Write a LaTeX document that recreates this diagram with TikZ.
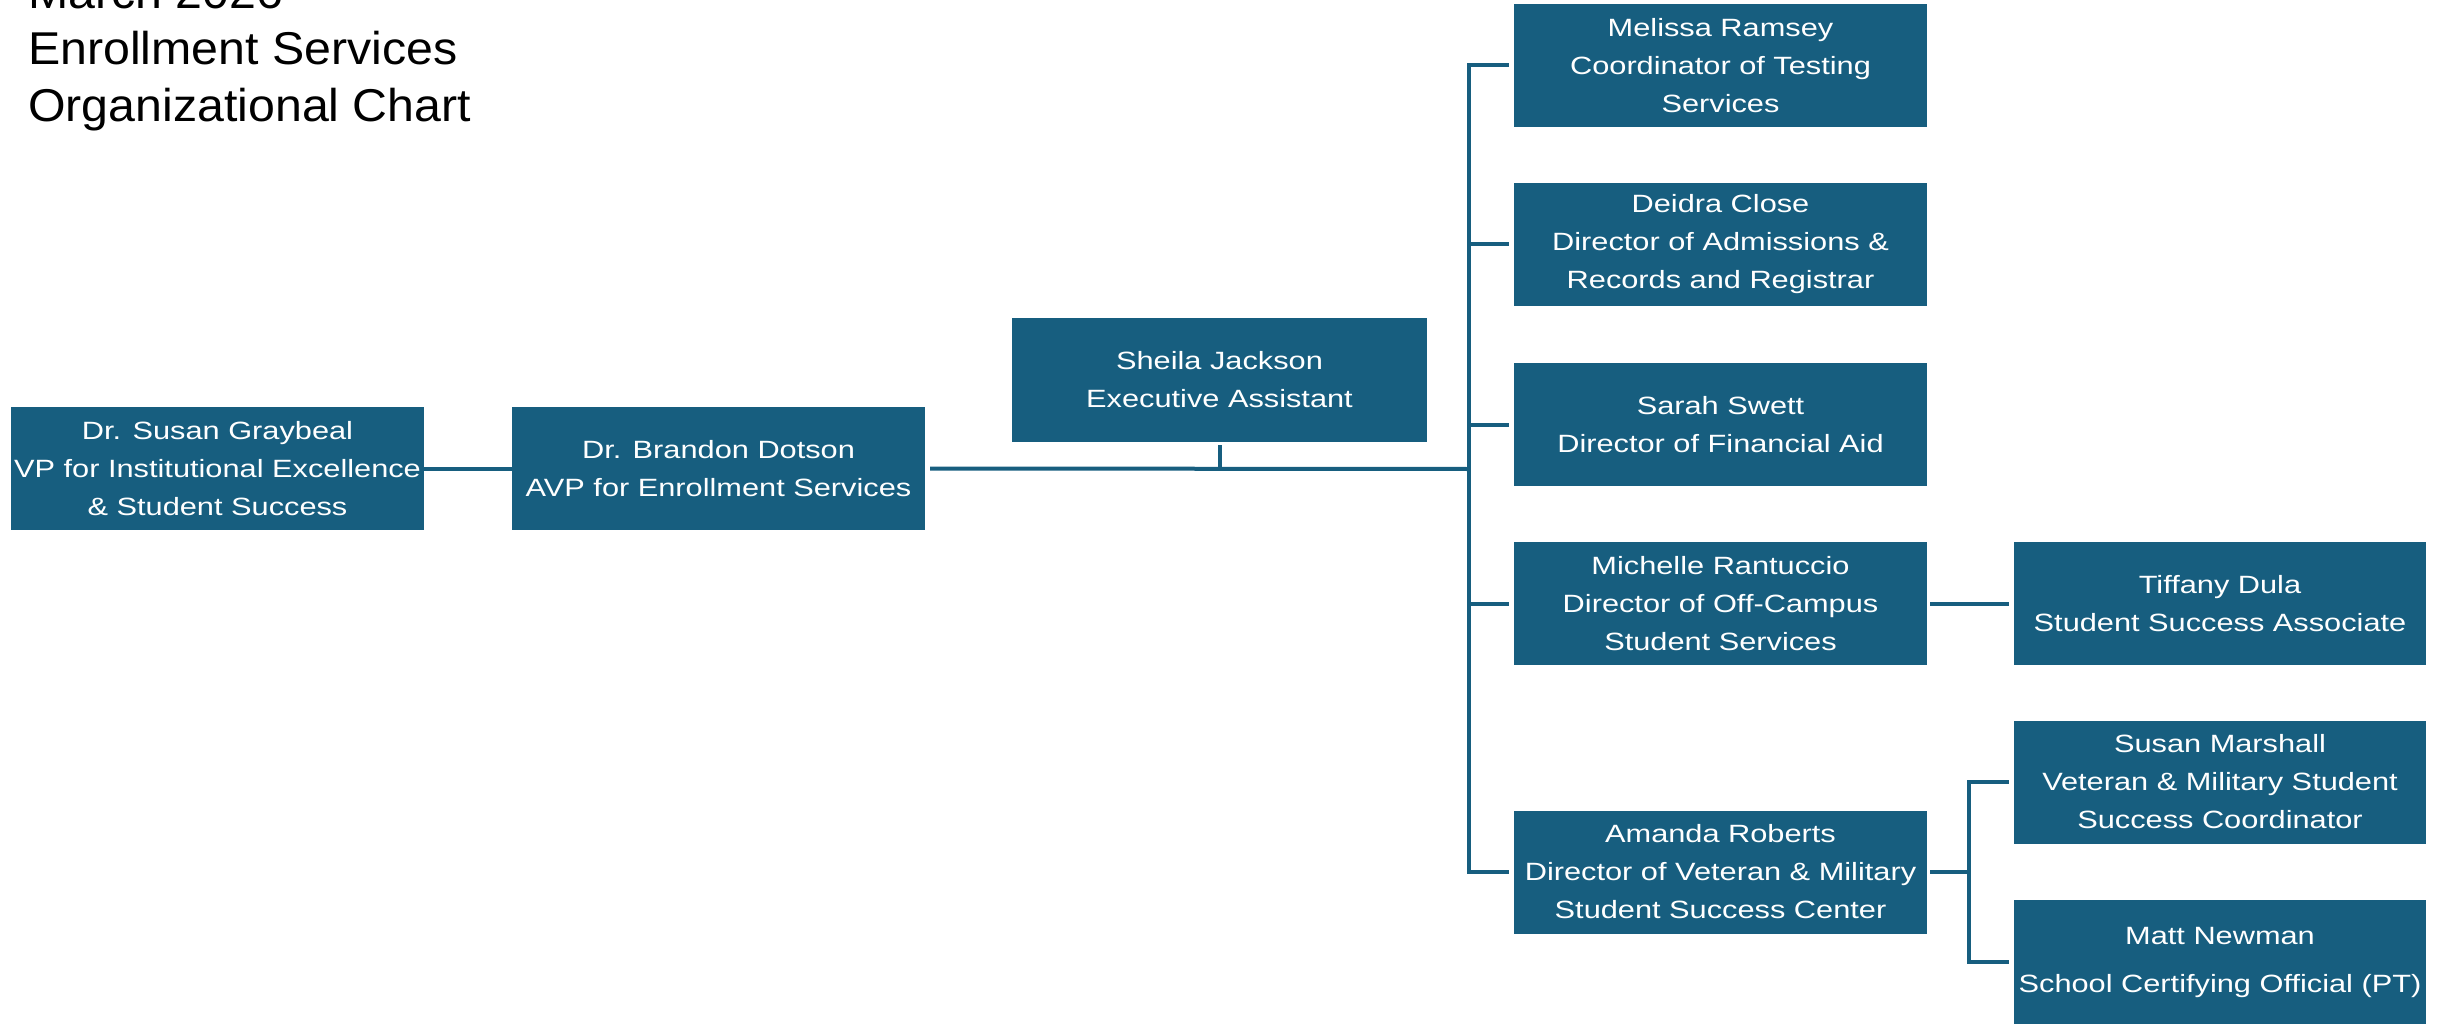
\documentclass[tikz,border=0pt]{standalone}
\usepackage{fontspec}
\setmainfont{Liberation Sans}
\newfontfamily\titlefont[FakeStretch=1.05]{Liberation Sans}
\newfontfamily\boxfont[FakeStretch=1.23]{Liberation Sans}
\definecolor{boxblue}{RGB}{23,94,127}
\tikzset{
  orgbox/.style={fill=boxblue, draw=none, text=white, inner sep=0pt,
    minimum width=413pt, minimum height=123pt, align=center,
    font=\boxfont\fontsize{25}{38}\selectfont},
  conn/.style={draw=boxblue, line width=4pt},
  titletext/.style={anchor=base west, inner sep=0pt, text=black,
    font=\titlefont\fontsize{46}{57}\selectfont}
}
\begin{document}
\begin{tikzpicture}[x=1pt,y=-1pt]
\useasboundingbox (0,0) rectangle (2446,1024);
% title
\node[titletext] (t1) at (28,9) {March 2026};
\node[titletext] (t2) at (28,65) {Enrollment Services};
\node[titletext] (t3) at (28,122) {Organizational Chart};
% boxes
\node[orgbox] (graybeal) at (217.5,468.5) {Dr. Susan Graybeal\\VP for Institutional Excellence\\\& Student Success};
\node[orgbox] (dotson) at (718.5,468.5) {Dr. Brandon Dotson\\AVP for Enrollment Services};
\node[orgbox, minimum width=415pt, minimum height=124pt] (jackson) at (1219.5,380) {Sheila Jackson\\Executive Assistant};
\node[orgbox] (ramsey) at (1720.5,65.5) {Melissa Ramsey\\Coordinator of Testing\\Services};
\node[orgbox] (close) at (1720.5,244.5) {Deidra Close\\Director of Admissions \&\\Records and Registrar};
\node[orgbox] (swett) at (1720.5,424.5) {Sarah Swett\\Director of Financial Aid};
\node[orgbox] (rantuccio) at (1720.5,603.5) {Michelle Rantuccio\\Director of Off-Campus\\Student Services};
\node[orgbox] (roberts) at (1720.5,872) {Amanda Roberts\\Director of Veteran \& Military\\Student Success Center};
\node[orgbox, minimum width=412pt] (dula) at (2220,603.5) {Tiffany Dula\\Student Success Associate};
\node[orgbox, minimum width=412pt] (marshall) at (2220,782) {Susan Marshall\\Veteran \& Military Student\\Success Coordinator};
\node[orgbox, minimum width=412pt, minimum height=124pt, font=\boxfont\fontsize{25}{48}\selectfont] (newman) at (2220,962) {Matt Newman\\School Certifying Official (PT)};
% connectors
\coordinate (trunk) at (1469,469);
\draw[conn] (graybeal.east) -- (dotson.west);
\draw[conn, shorten <=5pt] (dotson.east) -- (trunk);
\draw[conn, shorten <=3pt] (jackson.south) -- (jackson.south |- trunk);
\draw[conn, shorten <=5pt, shorten >=5pt] (ramsey.west) -- ++(-45,0) |- (roberts.west);
\draw[conn, shorten <=5pt] (close.west) -- ++(-45,0);
\draw[conn, shorten <=5pt] (swett.west) -- ++(-45,0);
\draw[conn, shorten <=5pt] (rantuccio.west) -- ++(-45,0);
\draw[conn, shorten <=3pt, shorten >=5pt] (rantuccio.east) -- (dula.west);
\draw[conn, shorten <=3pt] (roberts.east) -- ++(42,0);
\draw[conn, shorten <=5pt, shorten >=5pt] (marshall.west) -- ++(-45,0) |- (newman.west);
\end{tikzpicture}
\end{document}
